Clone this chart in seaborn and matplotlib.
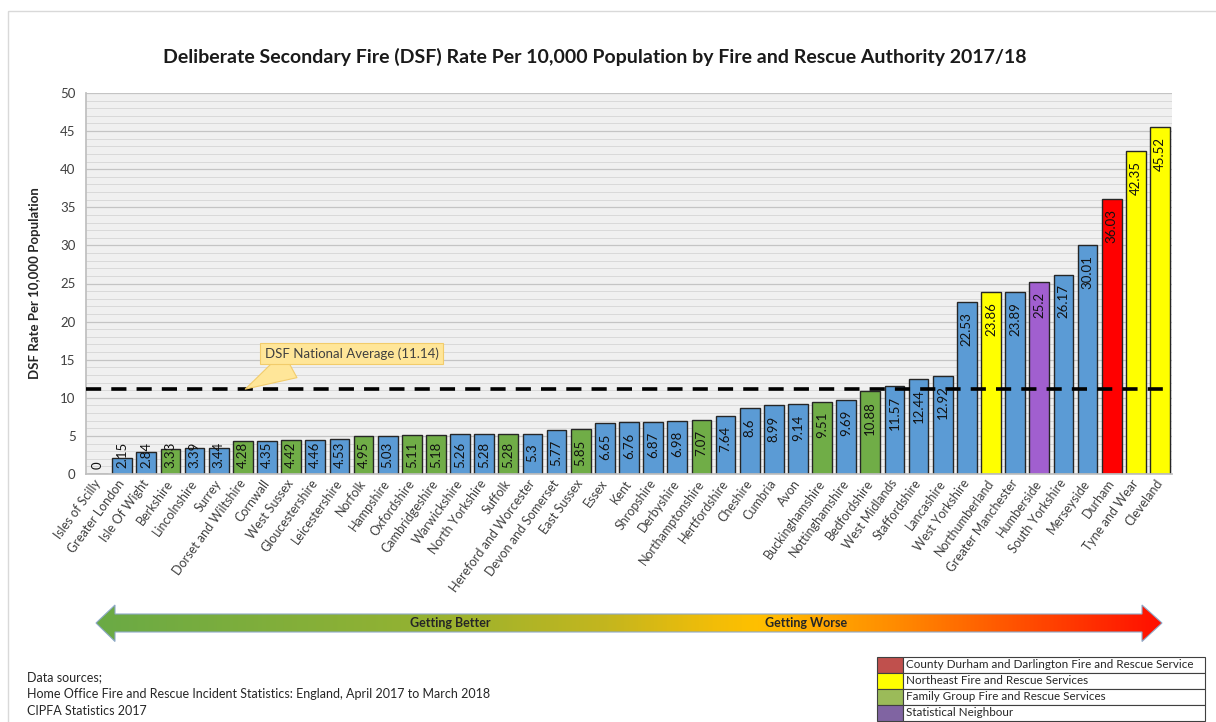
import numpy as np
import pandas as pd
import seaborn as sns
import matplotlib.pyplot as plt
from matplotlib.patches import Polygon, Rectangle
from matplotlib.colors import LinearSegmentedColormap

authorities = [
    "Isles of Scilly", "Greater London", "Isle Of Wight", "Berkshire", "Lincolnshire",
    "Surrey", "Dorset and Wiltshire", "Cornwall", "West Sussex", "Gloucestershire",
    "Leicestershire", "Norfolk", "Hampshire", "Oxfordshire", "Cambridgeshire",
    "Warwickshire", "North Yorkshire", "Suffolk", "Hereford and Worcester", "Devon and Somerset",
    "East Sussex", "Essex", "Kent", "Shropshire", "Derbyshire",
    "Northamptonshire", "Hertfordshire", "Cheshire", "Cumbria", "Avon",
    "Buckinghamshire", "Nottinghamshire", "Bedfordshire", "West Midlands", "Staffordshire",
    "Lancashire", "West Yorkshire", "Northumberland", "Greater Manchester", "Humberside",
    "South Yorkshire", "Merseyside", "Durham", "Tyne and Wear", "Cleveland",
]
dsf_rate = [
    0, 2.15, 2.84, 3.33, 3.39, 3.44, 4.28, 4.35, 4.42, 4.46,
    4.53, 4.95, 5.03, 5.11, 5.18, 5.26, 5.28, 5.28, 5.3, 5.77,
    5.85, 6.65, 6.76, 6.87, 6.98, 7.07, 7.64, 8.6, 8.99, 9.14,
    9.51, 9.69, 10.88, 11.57, 12.44, 12.92, 22.53, 23.86, 23.89, 25.2,
    26.17, 30.01, 36.03, 42.35, 45.52,
]
# O = other, F = family group, N = northeast, D = durham, S = statistical neighbour
group = list("OOOFOOFOFOOFOFFOOFOOFOOOOFOOOOFOFOOOONOSOODNN")
national_avg = 11.14

palette = {"O": "#5B9BD5", "F": "#70AD47", "N": "#FFFF00", "D": "#FF0000", "S": "#A15FCF"}

legend_labels = [
    "County Durham and Darlington Fire and Rescue Service",
    "Northeast Fire and Rescue Services",
    "Family Group Fire and Rescue Services",
    "Statistical Neighbour",
]
legend_colors = ["#C0504D", "#FFFF00", "#9BBB59", "#8064A2"]

sources = [
    "Data sources;",
    "Home Office Fire and Rescue Incident Statistics: England, April 2017 to March 2018",
    "CIPFA Statistics 2017",
]

df = pd.DataFrame({"authority": authorities, "rate": dsf_rate, "group": group})

sns.set_theme(style="white")
plt.rcParams["font.family"] = ["Lato", "DejaVu Sans"]

fig = plt.figure(figsize=(12.16, 7.22), dpi=100)
ax = fig.add_axes([86 / 1216, 1 - 474 / 722, (1172 - 86) / 1216, (474 - 93) / 722])

sns.barplot(data=df, x="authority", y="rate", hue="group", palette=palette, saturation=1,
            dodge=False, width=0.82, edgecolor="#262626", linewidth=1.0,
            legend=False, ax=ax, order=authorities)

ax.set_xlim(-0.5, len(authorities) - 0.5)
ax.set_ylim(0, 50)
ax.set_facecolor("#F0F0F0")
ax.set_yticks(np.arange(0, 51, 5))
ax.set_yticks(np.arange(0, 51, 1), minor=True)
ax.grid(which="major", axis="y", color="#C4C4C4", lw=0.9)
ax.grid(which="minor", axis="y", color="#D9D9D9", lw=0.7)
ax.set_axisbelow(True)
for s in ["top", "right"]:
    ax.spines[s].set_visible(False)
for s in ["left", "bottom"]:
    ax.spines[s].set_color("#BFBFBF")
ax.tick_params(axis="y", which="major", length=4, color="#BFBFBF", labelsize=9.5, labelcolor="#404040")
ax.tick_params(axis="y", which="minor", length=0)
ax.set_xticks(range(len(authorities)))
ax.set_xticklabels(authorities, rotation=54, ha="right", va="center",
                   rotation_mode="anchor", fontsize=9, color="#404040")
ax.tick_params(axis="x", length=0, pad=5)
ax.set_xlabel("")
ax.set_ylabel("DSF Rate Per 10,000 Population", fontsize=9.5, fontweight="bold", labelpad=14)

# value labels, inside end, pushed up on short bars
for i, v in enumerate(dsf_rate):
    lab = f"{v:g}"
    y = max(v - 1.3, 0.8 + 0.85 * len(lab))
    ax.text(i, y, lab, rotation=90, ha="center", va="top", fontsize=9.5, color="#111111", zorder=5)

ax.axhline(national_avg, color="black", lw=2.6, dashes=(4.2, 2.8), zorder=4)
ax.annotate(f"DSF National Average ({national_avg})", xy=(6.1, national_avg), xytext=(10.5, 15.8),
            ha="center", va="center", fontsize=9.5, color="#404040", zorder=6,
            bbox=dict(boxstyle="square,pad=0.35", fc="#FFE699", ec="#F2CC6B", lw=0.8),
            arrowprops=dict(arrowstyle="wedge,tail_width=2.2,shrink_factor=0.5", fc="#FFE699",
                            ec="#F2CC6B", lw=0.8, relpos=(0.2, 0.0), shrinkA=0, shrinkB=0))

# overlay in pixel units for title, arrow, legend and notes
ov = fig.add_axes([0, 0, 1, 1], zorder=-5)
ov.axis("off")

arrow_pts = [(96, 623), (115, 605), (115, 614), (1142, 614), (1142, 605), (1162, 623),
             (1142, 641.5), (1142, 632), (115, 632), (115, 641.5)]
poly = Polygon(arrow_pts, closed=True, fc="none", ec="#8EA9C8", lw=0.8, zorder=3)
ov.add_patch(poly)
cmap = LinearSegmentedColormap.from_list("gb", [
    (0, "#6AAA45"), (0.3, "#93B232"), (0.48, "#C4B61E"), (0.58, "#F2BD08"),
    (0.62, "#FFC000"), (0.75, "#FF8C00"), (0.88, "#FF4A00"), (1, "#FF0F00")])
im = ov.imshow(np.linspace(0, 1, 512).reshape(1, -1), cmap=cmap, extent=(96, 1162, 642, 604),
               aspect="auto", interpolation="bilinear", zorder=2)
im.set_clip_path(poly)
ov.text(450, 623, "Getting Better", ha="center", va="center", fontsize=9, fontweight="bold", color="#262626")
ov.text(806, 623, "Getting Worse", ha="center", va="center", fontsize=9, fontweight="bold", color="#262626")

ov.text(595, 57, "Deliberate Secondary Fire (DSF) Rate Per 10,000 Population by Fire and Rescue Authority 2017/18",
        ha="center", va="center", fontsize=14, fontweight="bold", color="#1A1A1A")

for k, (lab, col) in enumerate(zip(legend_labels, legend_colors)):
    y0 = 657 + 16 * k
    ov.add_patch(Rectangle((877, y0), 26, 16, fc=col, ec="#404040", lw=0.8))
    ov.add_patch(Rectangle((903, y0), 302, 16, fc="white", ec="#404040", lw=0.8))
    ov.text(906, y0 + 8, lab, va="center", fontsize=8.4, color="#262626")

for k, line in enumerate(sources):
    ov.text(27, 677 + 17 * k, line, va="center", fontsize=9, color="#262626")

ov.add_patch(Rectangle((7.5, 10.5), 1300, 800, fill=False, ec="#D9D9D9", lw=1))
ov.set_xlim(0, 1216)
ov.set_ylim(722, 0)

fig.savefig("out.png", dpi=100)
